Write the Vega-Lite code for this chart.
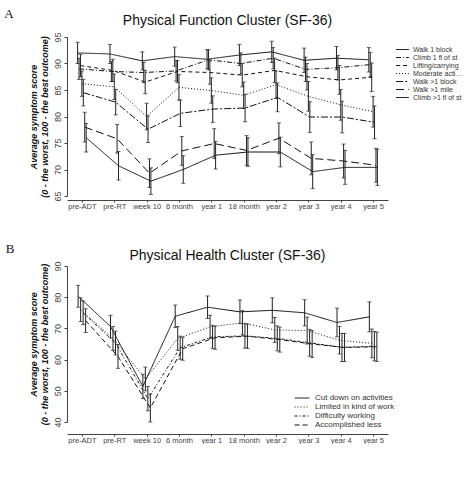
{
  "$schema": "https://vega.github.io/schema/vega-lite/v6.json",
  "background": "white",
  "padding": {"left": 4, "top": 7, "right": 0, "bottom": 0},
  "spacing": 32,
  "resolve": {
    "scale": {"strokeDash": "independent", "xOffset": "independent"},
    "legend": {"strokeDash": "independent"}
  },
  "config": {
    "font": "Liberation Sans",
    "view": {"stroke": null},
    "title": {"fontSize": 14, "fontWeight": "normal", "color": "#111"},
    "axis": {
      "grid": false,
      "domainColor": "#444",
      "tickColor": "#444",
      "tickSize": 3,
      "labelColor": "#444",
      "labelFont": "Liberation Sans",
      "labelOverlap": false
    },
    "axisY": {
      "labelAngle": -90,
      "labelFontSize": 9,
      "labelPadding": 2,
      "labelOverlap": false,
      "titleFontSize": 9,
      "titleFontStyle": "italic",
      "titleFontWeight": "bold",
      "titleColor": "#111",
      "titlePadding": 4
    },
    "legend": {
      "title": null,
      "symbolStrokeColor": "#111",
      "symbolStrokeWidth": 1,
      "labelColor": "#333",
      "rowPadding": 0
    }
  },
  "datasets": {
    "pf": [
      {"series": "Walk 1 block", "time": "pre-ADT", "mean": 92.0, "lo": 90.0, "hi": 94.0},
      {"series": "Walk 1 block", "time": "pre-RT", "mean": 91.8, "lo": 90.0, "hi": 93.6},
      {"series": "Walk 1 block", "time": "week 10", "mean": 90.5, "lo": 88.8, "hi": 92.2},
      {"series": "Walk 1 block", "time": "6 month", "mean": 91.3, "lo": 89.5, "hi": 93.1},
      {"series": "Walk 1 block", "time": "year 1", "mean": 90.8, "lo": 89.0, "hi": 92.6},
      {"series": "Walk 1 block", "time": "18 month", "mean": 91.6, "lo": 89.6, "hi": 93.6},
      {"series": "Walk 1 block", "time": "year 2", "mean": 92.2, "lo": 90.2, "hi": 94.2},
      {"series": "Walk 1 block", "time": "year 3", "mean": 90.6, "lo": 88.3, "hi": 92.9},
      {"series": "Walk 1 block", "time": "year 4", "mean": 91.0, "lo": 88.8, "hi": 93.2},
      {"series": "Walk 1 block", "time": "year 5", "mean": 90.7, "lo": 88.4, "hi": 93.0},
      {"series": "Climb 1 fl of st", "time": "pre-ADT", "mean": 89.0, "lo": 87.0, "hi": 91.0},
      {"series": "Climb 1 fl of st", "time": "pre-RT", "mean": 88.5, "lo": 86.6, "hi": 90.4},
      {"series": "Climb 1 fl of st", "time": "week 10", "mean": 88.3, "lo": 86.4, "hi": 90.2},
      {"series": "Climb 1 fl of st", "time": "6 month", "mean": 88.6, "lo": 86.7, "hi": 90.5},
      {"series": "Climb 1 fl of st", "time": "year 1", "mean": 90.7, "lo": 88.8, "hi": 92.6},
      {"series": "Climb 1 fl of st", "time": "18 month", "mean": 90.0, "lo": 88.0, "hi": 92.0},
      {"series": "Climb 1 fl of st", "time": "year 2", "mean": 91.0, "lo": 89.0, "hi": 93.0},
      {"series": "Climb 1 fl of st", "time": "year 3", "mean": 88.9, "lo": 86.6, "hi": 91.2},
      {"series": "Climb 1 fl of st", "time": "year 4", "mean": 89.2, "lo": 86.9, "hi": 91.5},
      {"series": "Climb 1 fl of st", "time": "year 5", "mean": 89.8, "lo": 87.5, "hi": 92.1},
      {"series": "Lifting/carrying", "time": "pre-ADT", "mean": 89.6, "lo": 87.5, "hi": 91.7},
      {"series": "Lifting/carrying", "time": "pre-RT", "mean": 88.7, "lo": 86.6, "hi": 90.8},
      {"series": "Lifting/carrying", "time": "week 10", "mean": 86.5, "lo": 84.3, "hi": 88.7},
      {"series": "Lifting/carrying", "time": "6 month", "mean": 88.5, "lo": 86.4, "hi": 90.6},
      {"series": "Lifting/carrying", "time": "year 1", "mean": 88.3, "lo": 86.1, "hi": 90.5},
      {"series": "Lifting/carrying", "time": "18 month", "mean": 87.8, "lo": 85.6, "hi": 90.0},
      {"series": "Lifting/carrying", "time": "year 2", "mean": 88.7, "lo": 86.4, "hi": 91.0},
      {"series": "Lifting/carrying", "time": "year 3", "mean": 87.5, "lo": 85.0, "hi": 90.0},
      {"series": "Lifting/carrying", "time": "year 4", "mean": 86.9, "lo": 84.2, "hi": 89.6},
      {"series": "Lifting/carrying", "time": "year 5", "mean": 87.4, "lo": 84.7, "hi": 90.1},
      {"series": "Moderate activity", "time": "pre-ADT", "mean": 86.2, "lo": 83.8, "hi": 88.6},
      {"series": "Moderate activity", "time": "pre-RT", "mean": 85.6, "lo": 83.2, "hi": 88.0},
      {"series": "Moderate activity", "time": "week 10", "mean": 80.0, "lo": 77.5, "hi": 82.5},
      {"series": "Moderate activity", "time": "6 month", "mean": 85.5, "lo": 83.1, "hi": 87.9},
      {"series": "Moderate activity", "time": "year 1", "mean": 84.9, "lo": 82.5, "hi": 87.3},
      {"series": "Moderate activity", "time": "18 month", "mean": 84.0, "lo": 81.5, "hi": 86.5},
      {"series": "Moderate activity", "time": "year 2", "mean": 86.0, "lo": 83.4, "hi": 88.6},
      {"series": "Moderate activity", "time": "year 3", "mean": 83.8, "lo": 81.0, "hi": 86.6},
      {"series": "Moderate activity", "time": "year 4", "mean": 82.2, "lo": 79.3, "hi": 85.1},
      {"series": "Moderate activity", "time": "year 5", "mean": 80.9, "lo": 78.0, "hi": 83.8},
      {"series": "Walk >1 block", "time": "pre-ADT", "mean": 84.5, "lo": 82.0, "hi": 87.0},
      {"series": "Walk >1 block", "time": "pre-RT", "mean": 82.7, "lo": 80.3, "hi": 85.1},
      {"series": "Walk >1 block", "time": "week 10", "mean": 77.6, "lo": 75.1, "hi": 80.1},
      {"series": "Walk >1 block", "time": "6 month", "mean": 80.6, "lo": 78.1, "hi": 83.1},
      {"series": "Walk >1 block", "time": "year 1", "mean": 81.4, "lo": 78.9, "hi": 83.9},
      {"series": "Walk >1 block", "time": "18 month", "mean": 81.6, "lo": 79.0, "hi": 84.2},
      {"series": "Walk >1 block", "time": "year 2", "mean": 83.6, "lo": 80.9, "hi": 86.3},
      {"series": "Walk >1 block", "time": "year 3", "mean": 79.9, "lo": 77.0, "hi": 82.8},
      {"series": "Walk >1 block", "time": "year 4", "mean": 79.9, "lo": 76.9, "hi": 82.9},
      {"series": "Walk >1 block", "time": "year 5", "mean": 78.9, "lo": 75.8, "hi": 82.0},
      {"series": "Walk >1 mile", "time": "pre-ADT", "mean": 78.0, "lo": 75.2, "hi": 80.8},
      {"series": "Walk >1 mile", "time": "pre-RT", "mean": 75.8, "lo": 73.1, "hi": 78.5},
      {"series": "Walk >1 mile", "time": "week 10", "mean": 69.3, "lo": 66.6, "hi": 72.0},
      {"series": "Walk >1 mile", "time": "6 month", "mean": 73.5, "lo": 70.8, "hi": 76.2},
      {"series": "Walk >1 mile", "time": "year 1", "mean": 74.9, "lo": 72.1, "hi": 77.7},
      {"series": "Walk >1 mile", "time": "18 month", "mean": 73.6, "lo": 70.8, "hi": 76.4},
      {"series": "Walk >1 mile", "time": "year 2", "mean": 75.9, "lo": 73.0, "hi": 78.8},
      {"series": "Walk >1 mile", "time": "year 3", "mean": 72.1, "lo": 69.0, "hi": 75.2},
      {"series": "Walk >1 mile", "time": "year 4", "mean": 71.6, "lo": 68.4, "hi": 74.8},
      {"series": "Walk >1 mile", "time": "year 5", "mean": 70.8, "lo": 67.6, "hi": 74.0},
      {"series": "Climb >1 fl of st", "time": "pre-ADT", "mean": 76.0, "lo": 73.3, "hi": 78.7},
      {"series": "Climb >1 fl of st", "time": "pre-RT", "mean": 70.7, "lo": 68.0, "hi": 73.4},
      {"series": "Climb >1 fl of st", "time": "week 10", "mean": 67.8, "lo": 65.3, "hi": 70.3},
      {"series": "Climb >1 fl of st", "time": "6 month", "mean": 70.0, "lo": 67.4, "hi": 72.6},
      {"series": "Climb >1 fl of st", "time": "year 1", "mean": 72.7, "lo": 70.1, "hi": 75.3},
      {"series": "Climb >1 fl of st", "time": "18 month", "mean": 73.3, "lo": 70.6, "hi": 76.0},
      {"series": "Climb >1 fl of st", "time": "year 2", "mean": 73.3, "lo": 70.5, "hi": 76.1},
      {"series": "Climb >1 fl of st", "time": "year 3", "mean": 69.6, "lo": 66.4, "hi": 72.8},
      {"series": "Climb >1 fl of st", "time": "year 4", "mean": 70.4, "lo": 67.2, "hi": 73.6},
      {"series": "Climb >1 fl of st", "time": "year 5", "mean": 70.4, "lo": 67.0, "hi": 73.8}
    ],
    "ph": [
      {"series": "Cut down on activities", "time": "pre-ADT", "mean": 80.3, "lo": 76.8, "hi": 83.8},
      {"series": "Cut down on activities", "time": "pre-RT", "mean": 70.6, "lo": 67.0, "hi": 74.2},
      {"series": "Cut down on activities", "time": "week 10", "mean": 51.4, "lo": 47.5, "hi": 55.3},
      {"series": "Cut down on activities", "time": "6 month", "mean": 73.9, "lo": 70.3, "hi": 77.5},
      {"series": "Cut down on activities", "time": "year 1", "mean": 76.8, "lo": 73.2, "hi": 80.4},
      {"series": "Cut down on activities", "time": "18 month", "mean": 75.3, "lo": 71.5, "hi": 79.1},
      {"series": "Cut down on activities", "time": "year 2", "mean": 75.8, "lo": 71.8, "hi": 79.8},
      {"series": "Cut down on activities", "time": "year 3", "mean": 75.0, "lo": 70.8, "hi": 79.2},
      {"series": "Cut down on activities", "time": "year 4", "mean": 71.9, "lo": 67.3, "hi": 76.5},
      {"series": "Cut down on activities", "time": "year 5", "mean": 73.7, "lo": 68.9, "hi": 78.5},
      {"series": "Limited in kind of work", "time": "pre-ADT", "mean": 76.0, "lo": 72.2, "hi": 79.8},
      {"series": "Limited in kind of work", "time": "pre-RT", "mean": 66.8, "lo": 63.0, "hi": 70.6},
      {"series": "Limited in kind of work", "time": "week 10", "mean": 53.8, "lo": 50.0, "hi": 57.6},
      {"series": "Limited in kind of work", "time": "6 month", "mean": 66.8, "lo": 63.0, "hi": 70.6},
      {"series": "Limited in kind of work", "time": "year 1", "mean": 70.5, "lo": 66.8, "hi": 74.2},
      {"series": "Limited in kind of work", "time": "18 month", "mean": 71.8, "lo": 67.9, "hi": 75.7},
      {"series": "Limited in kind of work", "time": "year 2", "mean": 69.5, "lo": 65.5, "hi": 73.5},
      {"series": "Limited in kind of work", "time": "year 3", "mean": 69.3, "lo": 65.0, "hi": 73.6},
      {"series": "Limited in kind of work", "time": "year 4", "mean": 66.2, "lo": 61.8, "hi": 70.6},
      {"series": "Limited in kind of work", "time": "year 5", "mean": 65.2, "lo": 60.6, "hi": 69.8},
      {"series": "Difficulty working", "time": "pre-ADT", "mean": 75.0, "lo": 71.2, "hi": 78.8},
      {"series": "Difficulty working", "time": "pre-RT", "mean": 65.3, "lo": 61.5, "hi": 69.1},
      {"series": "Difficulty working", "time": "week 10", "mean": 47.5, "lo": 43.6, "hi": 51.4},
      {"series": "Difficulty working", "time": "6 month", "mean": 63.8, "lo": 60.1, "hi": 67.5},
      {"series": "Difficulty working", "time": "year 1", "mean": 67.3, "lo": 63.6, "hi": 71.0},
      {"series": "Difficulty working", "time": "18 month", "mean": 67.6, "lo": 63.7, "hi": 71.5},
      {"series": "Difficulty working", "time": "year 2", "mean": 66.8, "lo": 62.8, "hi": 70.8},
      {"series": "Difficulty working", "time": "year 3", "mean": 65.4, "lo": 61.1, "hi": 69.7},
      {"series": "Difficulty working", "time": "year 4", "mean": 63.9, "lo": 59.4, "hi": 68.4},
      {"series": "Difficulty working", "time": "year 5", "mean": 64.3, "lo": 59.6, "hi": 69.0},
      {"series": "Accomplished less", "time": "pre-ADT", "mean": 72.5, "lo": 68.7, "hi": 76.3},
      {"series": "Accomplished less", "time": "pre-RT", "mean": 61.0, "lo": 57.2, "hi": 64.8},
      {"series": "Accomplished less", "time": "week 10", "mean": 44.5, "lo": 40.0, "hi": 49.0},
      {"series": "Accomplished less", "time": "6 month", "mean": 63.5, "lo": 59.8, "hi": 67.2},
      {"series": "Accomplished less", "time": "year 1", "mean": 67.0, "lo": 63.3, "hi": 70.7},
      {"series": "Accomplished less", "time": "18 month", "mean": 67.5, "lo": 63.6, "hi": 71.4},
      {"series": "Accomplished less", "time": "year 2", "mean": 66.4, "lo": 62.4, "hi": 70.4},
      {"series": "Accomplished less", "time": "year 3", "mean": 65.0, "lo": 60.7, "hi": 69.3},
      {"series": "Accomplished less", "time": "year 4", "mean": 63.9, "lo": 59.4, "hi": 68.4},
      {"series": "Accomplished less", "time": "year 5", "mean": 64.1, "lo": 59.4, "hi": 68.8}
    ]
  },
  "vconcat": [
    {
      "title": {"text": "A", "orient": "left", "anchor": "end", "angle": 0, "font": "Liberation Serif", "fontSize": 13, "offset": 6, "baseline": "top", "dy": -6},
      "vconcat": [
        {
          "title": {"text": "Physical Function Cluster (SF-36)", "offset": 4},
          "width": 321,
          "height": 159,
          "data": {"name": "pf"},
          "encoding": {
            "x": {
              "field": "time",
              "type": "ordinal",
              "sort": ["pre-ADT", "pre-RT", "week 10", "6 month", "year 1", "18 month", "year 2", "year 3", "year 4", "year 5"],
              "scale": {"type": "point", "padding": 0.46},
              "axis": {"title": null, "labelAngle": 0, "offset": 4, "tickSize": 2, "labelFontSize": 7.5, "labelPadding": 0}
            },
            "xOffset": {
              "field": "series",
              "type": "nominal",
              "sort": ["Walk 1 block", "Climb 1 fl of st", "Lifting/carrying", "Moderate activity", "Walk >1 block", "Walk >1 mile", "Climb >1 fl of st"],
              "scale": {"range": [-5, 5]}
            }
          },
          "layer": [
            {
              "mark": {"type": "line", "stroke": "#111", "strokeWidth": 1},
              "encoding": {
                "y": {
                  "field": "mean",
                  "type": "quantitative",
                  "scale": {"domain": [65, 95], "nice": false, "zero": false},
                  "axis": {"values": [65, 70, 75, 80, 85, 90, 95], "labelOverlap": false, "title": ["Average symptom score", "(0 - the worst, 100 - the best outcome)"]}
                },
                "strokeDash": {
                  "field": "series",
                  "type": "nominal",
                  "sort": ["Walk 1 block", "Climb 1 fl of st", "Lifting/carrying", "Moderate activity", "Walk >1 block", "Walk >1 mile", "Climb >1 fl of st"],
                  "scale": {"range": [[1, 0], [5, 2, 1, 2], [4, 3], [1, 2], [7, 2, 2, 2], [8, 4], [1, 0]]},
                  "legend": {
                    "orient": "none",
                    "legendX": 331,
                    "legendY": 8,
                    "symbolType": "M-1.6,0H1.6",
                    "symbolSize": 64,
                    "labelFontSize": 7,
                    "labelLimit": 52,
                    "labelOffset": 6
                  }
                }
              }
            },
            {
              "mark": {"type": "rule", "stroke": "#222", "strokeWidth": 1},
              "encoding": {
                "y": {"field": "lo", "type": "quantitative", "axis": {"values": [65, 70, 75, 80, 85, 90, 95], "labelOverlap": false, "title": ["Average symptom score", "(0 - the worst, 100 - the best outcome)"]}},
                "y2": {"field": "hi"}
              }
            },
            {
              "mark": {"type": "tick", "color": "#222", "thickness": 1, "size": 4},
              "encoding": {"y": {"field": "lo", "type": "quantitative", "axis": {"values": [65, 70, 75, 80, 85, 90, 95], "labelOverlap": false, "title": ["Average symptom score", "(0 - the worst, 100 - the best outcome)"]}}}
            },
            {
              "mark": {"type": "tick", "color": "#222", "thickness": 1, "size": 4},
              "encoding": {"y": {"field": "hi", "type": "quantitative", "axis": {"values": [65, 70, 75, 80, 85, 90, 95], "labelOverlap": false, "title": ["Average symptom score", "(0 - the worst, 100 - the best outcome)"]}}}
            }
          ]
        }
      ]
    },
    {
      "title": {"text": "B", "orient": "left", "anchor": "end", "angle": 0, "font": "Liberation Serif", "fontSize": 13, "offset": 6, "baseline": "top", "dy": -6},
      "vconcat": [
        {
          "title": {"text": "Physical Health Cluster (SF-36)", "offset": -2},
          "width": 321,
          "height": 156,
          "data": {"name": "ph"},
          "encoding": {
            "x": {
              "field": "time",
              "type": "ordinal",
              "sort": ["pre-ADT", "pre-RT", "week 10", "6 month", "year 1", "18 month", "year 2", "year 3", "year 4", "year 5"],
              "scale": {"type": "point", "padding": 0.46},
              "axis": {"title": null, "labelAngle": 0, "offset": 12, "tickSize": 2, "labelFontSize": 7.5, "labelPadding": 0}
            },
            "xOffset": {
              "field": "series",
              "type": "nominal",
              "sort": ["Cut down on activities", "Limited in kind of work", "Difficulty working", "Accomplished less"],
              "scale": {"range": [-5, 5]}
            }
          },
          "layer": [
            {
              "mark": {"type": "line", "stroke": "#111", "strokeWidth": 1},
              "encoding": {
                "y": {
                  "field": "mean",
                  "type": "quantitative",
                  "scale": {"domain": [40, 90], "nice": false, "zero": false},
                  "axis": {"values": [40, 50, 60, 70, 80, 90], "labelOverlap": false, "title": ["Average symptom score", "(0 - the worst, 100 - the best outcome)"]}
                },
                "strokeDash": {
                  "field": "series",
                  "type": "nominal",
                  "sort": ["Cut down on activities", "Limited in kind of work", "Difficulty working", "Accomplished less"],
                  "scale": {"range": [[1, 0], [1, 2], [3, 2, 1, 2], [5, 3]]},
                  "legend": {
                    "orient": "none",
                    "legendX": 230,
                    "legendY": 127,
                    "symbolType": "M-1.7,0H1.7",
                    "symbolSize": 76,
                    "labelFontSize": 8,
                    "labelOffset": 8
                  }
                }
              }
            },
            {
              "mark": {"type": "rule", "stroke": "#222", "strokeWidth": 1},
              "encoding": {
                "y": {"field": "lo", "type": "quantitative", "axis": {"values": [40, 50, 60, 70, 80, 90], "labelOverlap": false, "title": ["Average symptom score", "(0 - the worst, 100 - the best outcome)"]}},
                "y2": {"field": "hi"}
              }
            },
            {
              "mark": {"type": "tick", "color": "#222", "thickness": 1, "size": 4},
              "encoding": {"y": {"field": "lo", "type": "quantitative", "axis": {"values": [40, 50, 60, 70, 80, 90], "labelOverlap": false, "title": ["Average symptom score", "(0 - the worst, 100 - the best outcome)"]}}}
            },
            {
              "mark": {"type": "tick", "color": "#222", "thickness": 1, "size": 4},
              "encoding": {"y": {"field": "hi", "type": "quantitative", "axis": {"values": [40, 50, 60, 70, 80, 90], "labelOverlap": false, "title": ["Average symptom score", "(0 - the worst, 100 - the best outcome)"]}}}
            }
          ]
        }
      ]
    }
  ]
}
